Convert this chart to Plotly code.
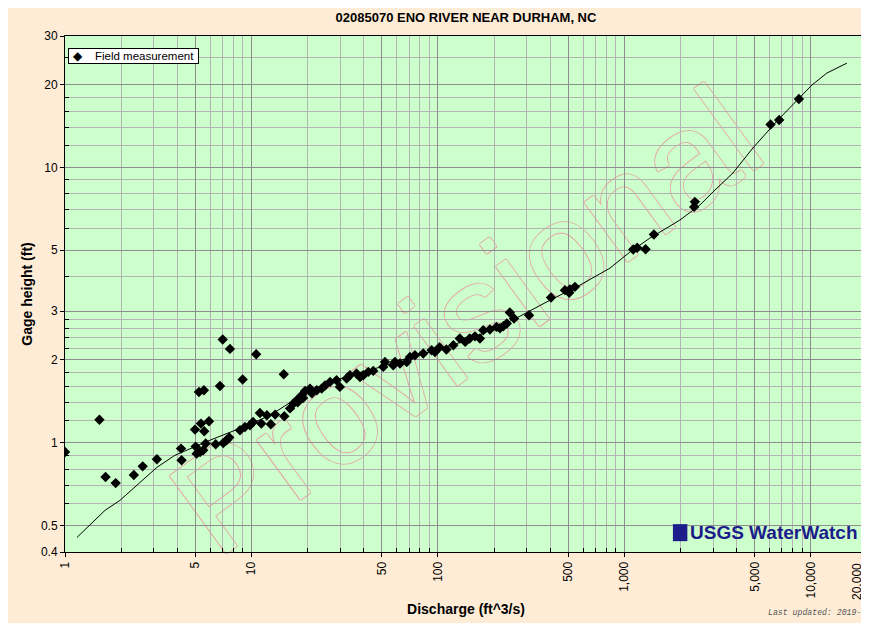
import plotly.graph_objects as go

meas_q = [1.0, 1.53, 1.65, 1.87, 2.34, 2.61, 3.11, 4.19, 4.22, 4.98, 5.02, 5.23, 5.56, 5.36,
          5.58, 5.92, 5.08, 5.30, 5.51, 5.68, 6.43, 6.78, 7.01, 7.67, 7.06, 7.36, 7.60, 8.97,
          8.68, 9.23, 9.82, 10.2, 10.6, 11.1, 11.3, 12.1, 12.7, 13.4, 14.9, 15.0, 16.8, 17.5,
          18.6, 19.4, 20.6, 22.4, 23.8, 26.4, 28.6, 29.8, 32.4, 33.7, 36.6, 39.8, 42.3, 45.0,
          50.9, 52.0, 57.6, 62.6, 68.0, 70.8, 75.3, 83.4, 92.5, 96.4, 111, 121, 131, 140,
          148, 168, 175, 190, 206, 224, 234, 243, 256, 308, 404, 480, 510, 543, 506,
          1115, 1171, 1299, 1440, 2367, 2388, 6080, 6761, 8626,
          16.1, 17.7, 18.9, 21.1, 24.8, 38.2, 58.8, 102, 158, 215]
meas_h = [0.924, 1.21, 0.749, 0.712, 0.762, 0.819, 0.869, 0.950, 0.862, 1.114, 0.966, 1.526,
          1.548, 1.171, 1.098, 1.194, 0.911, 0.924, 0.937, 0.991, 0.985, 1.605, 2.367, 2.188,
          0.996, 1.019, 1.042, 1.693, 1.108, 1.139, 1.155, 1.187, 2.093, 1.280, 1.171, 1.256,
          1.165, 1.263, 1.770, 1.245, 1.385, 1.424, 1.485, 1.539, 1.570, 1.548, 1.570, 1.660,
          1.684, 1.592, 1.708, 1.756, 1.781, 1.756, 1.805, 1.820, 1.882, 1.962, 1.909, 1.936,
          1.962, 2.046, 2.075, 2.105, 2.164, 2.133, 2.177, 2.257, 2.387, 2.320, 2.387, 2.387,
          2.559, 2.574, 2.630, 2.646, 2.706, 2.968, 2.822, 2.901, 3.365, 3.577, 3.597, 3.677,
          3.497, 5.03, 5.10, 5.04, 5.70, 7.18, 7.49, 14.3, 14.85, 17.7,
          1.33, 1.40, 1.45, 1.51, 1.61, 1.73, 1.96, 2.22, 2.43, 2.60]

# rating curve
rating_q = [1.16, 1.36, 1.64, 1.97, 2.52, 3.11, 3.89, 4.86, 5.99, 7.67, 9.82, 12.6, 16.1, 18.2,
            20.6, 26.4, 33.7, 48.9, 70.8, 102.5, 148, 215, 275, 399, 577, 836, 1070, 1370,
            1984, 2540, 2982, 3818, 4887, 6655, 8730, 10125, 12180, 15600]
rating_h = [0.452, 0.500, 0.567, 0.616, 0.717, 0.812, 0.899, 0.961, 1.019, 1.089, 1.165, 1.256,
            1.400, 1.472, 1.548, 1.655, 1.756, 1.877, 2.041, 2.183, 2.373, 2.646, 2.876, 3.289,
            3.729, 4.30, 4.92, 5.53, 6.43, 7.29, 8.13, 9.53, 11.75, 14.85, 17.85, 19.9, 22.0, 23.9]

x_major = [1, 5, 10, 50, 100, 500, 1000, 5000, 10000, 20000]
# the last label sits at the window edge, so it is drawn as an annotation nudged inward
x_major_text = ["1", "5", "10", "50", "100", "500", "1,000", "5,000", "10,000", ""]
x_edge_label = "20,000"
x_minor = [2, 3, 4, 6, 7, 8, 9, 20, 30, 40, 60, 70, 80, 90, 200, 300, 400, 600, 700, 800, 900,
           2000, 3000, 4000, 6000, 7000, 8000, 9000]
y_major = [0.4, 0.5, 1, 2, 3, 5, 10, 20, 30]
y_major_text = ["0.4", "0.5", "1", "2", "3", "5", "10", "20", "30"]
y_minor = [0.6, 0.7, 0.8, 0.9, 1.2, 1.4, 1.6, 1.8, 2.2, 2.4, 2.6, 2.8, 4, 6, 7, 8, 9,
           12, 14, 16, 18, 25]

green = "#ccffcc"
beige = "#ffecd6"
navy = "#1c1c8a"
sans = "Liberation Sans, Arial"

fig = go.Figure()
fig.add_trace(go.Scatter(x=rating_q, y=rating_h, mode="lines",
                         line=dict(color="black", width=1), showlegend=False, hoverinfo="skip"))
fig.add_trace(go.Scatter(x=meas_q, y=meas_h, mode="markers", name="Field measurement",
                         marker=dict(symbol="diamond", size=8, color="black"), showlegend=False))

axis_common = dict(type="log", showline=True, linecolor="black", linewidth=1, mirror=True,
                   showgrid=True, gridcolor="#8c8c8c", gridwidth=1, zeroline=False,
                   ticks="outside", ticklen=4, tickcolor="black", automargin=False,
                   tickfont=dict(family=sans, size=12, color="black"))

fig.update_xaxes(range=[0, 4.3011], tickmode="array", tickvals=x_major, ticktext=x_major_text,
                 tickangle=-90,
                 minor=dict(tickmode="array", tickvals=x_minor, showgrid=True, gridcolor="#b3b3b3",
                            ticks="inside", ticklen=4, tickcolor="black"),
                 title=dict(text="<b>Discharge (ft^3/s)</b>", standoff=6,
                            font=dict(family=sans, size=14, color="black")),
                 **axis_common)
fig.update_yaxes(range=[-0.39794, 1.47712], tickmode="array", tickvals=y_major, ticktext=y_major_text,
                 minor=dict(tickmode="array", tickvals=y_minor, showgrid=True, gridcolor="#b3b3b3",
                            ticks="inside", ticklen=4, tickcolor="black"),
                 title=dict(text="<b>Gage height (ft)</b>", standoff=5,
                            font=dict(family=sans, size=14, color="black")),
                 **axis_common)

fig.add_annotation(xref="paper", yref="paper", x=0.9875, y=-0.0562, xanchor="center",
                   yanchor="middle", text=x_edge_label, textangle=-90, showarrow=False,
                   font=dict(family=sans, size=12, color="black"))

# watermark below the grid
fig.add_shape(type="rect", xref="x domain", yref="y domain", x0=0.44, x1=0.54, y0=0.42, y1=0.52,
              layer="below", line=dict(width=0), fillcolor="rgba(0,0,0,0)",
              label=dict(text="Provisional", textangle=-36, textposition="middle center",
                         font=dict(family=sans, size=140, color=green,
                                   shadow="1px 0 0 #e4a9a9, -1px 0 0 #e4a9a9, 0 1px 0 #e4a9a9, "
                                          "0 -1px 0 #e4a9a9")))

# legend box
fig.add_annotation(xref="paper", yref="paper", x=0.004, y=0.977, xanchor="left", yanchor="top",
                   text="&nbsp;◆&nbsp;&nbsp;&nbsp;&nbsp;Field measurement&nbsp;", showarrow=False,
                   bgcolor="white", bordercolor="black", borderwidth=1, borderpad=1,
                   font=dict(family=sans, size=11.5, color="black"))

# USGS WaterWatch logo
fig.add_shape(type="rect", xref="paper", yref="paper", x0=0.758, x1=0.776, y0=0.021, y1=0.054,
              fillcolor=navy, line=dict(width=0), layer="above")
fig.add_annotation(xref="paper", yref="paper", x=0.777, y=0.038, xanchor="left", yanchor="middle",
                   text="<b>USGS WaterWatch</b>", showarrow=False,
                   font=dict(family=sans, size=19, color=navy))

fig.add_annotation(xref="paper", yref="paper", x=0.874, y=-0.118, xanchor="left", yanchor="middle",
                   text="<i>Last updated: 2019-</i>", showarrow=False,
                   font=dict(family="Liberation Mono, DejaVu Sans Mono", size=8.2, color="#555555"))

# the page adds an 8px body margin, so the figure is sized to the visible area
fig.update_layout(
    width=861, height=615,
    margin=dict(l=57, r=2, t=28, b=71),
    paper_bgcolor=beige, plot_bgcolor=green,
    title=dict(text="<b>02085070 ENO RIVER NEAR DURHAM, NC</b>", x=0.5, xref="paper",
               y=0.984, yref="container", yanchor="middle", automargin=False,
               font=dict(family=sans, size=13, color="black")),
    showlegend=False,
)

fig.write_html("out.html")
